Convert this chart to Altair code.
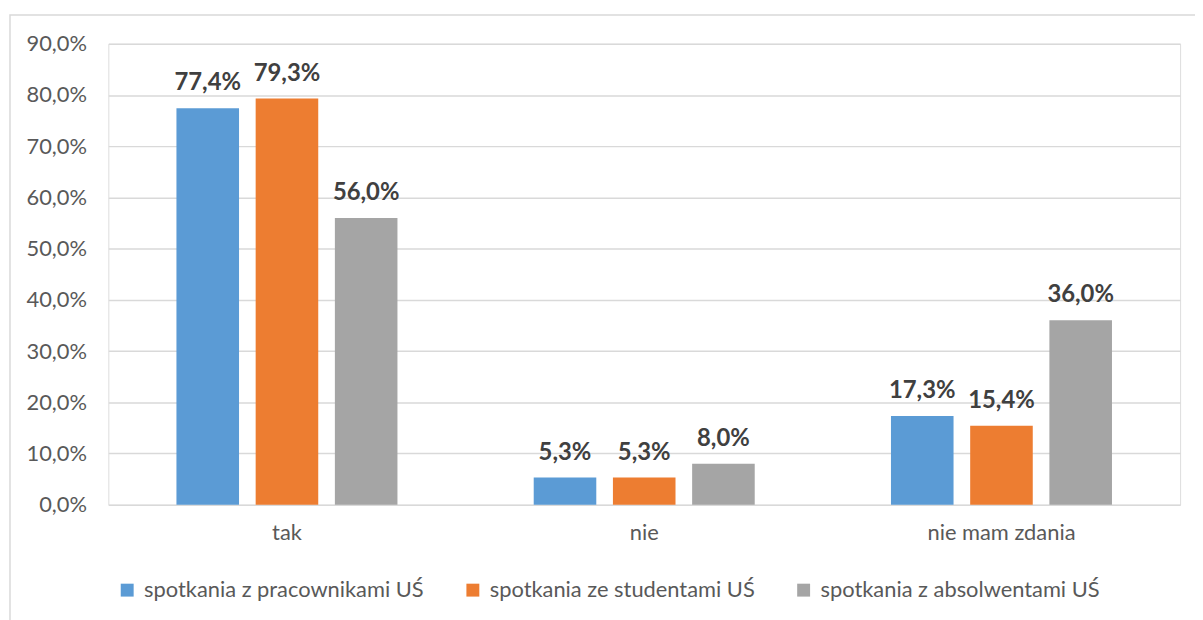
import altair as alt
import pandas as pd

categories = ["tak", "nie", "nie mam zdania"]
series = ["spotkania z pracownikami UŚ", "spotkania ze studentami UŚ", "spotkania z absolwentami UŚ"]
values_pracownicy = [77.4, 5.3, 17.3]
values_studenci = [79.3, 5.3, 15.4]
values_absolwenci = [56.0, 8.0, 36.0]
colors = ["#5B9BD5", "#ED7D31", "#A5A5A5"]
y_ticks = [0, 10, 20, 30, 40, 50, 60, 70, 80, 90]

rows = []
for s, vals in zip(series, [values_pracownicy, values_studenci, values_absolwenci]):
    for c, v in zip(categories, vals):
        rows.append({"kategoria": c, "seria": s, "wartosc": v})
df = pd.DataFrame(rows)

FONT = "Lato"
W, H = 1079, 464

x_enc = alt.X("kategoria:N", sort=categories,
              scale=alt.Scale(paddingInner=0, paddingOuter=0),
              axis=alt.Axis(title=None, labelAngle=0, labelFontSize=22, labelColor="#595959",
                            labelFont=FONT, labelPadding=18, ticks=False, domain=False, grid=False))
xo_enc = alt.XOffset("seria:N", sort=series,
                     scale=alt.Scale(paddingInner=0.21, paddingOuter=0.86))
y_enc = alt.Y("wartosc:Q", scale=alt.Scale(domain=[0, 90], nice=False),
              axis=alt.Axis(title=None, values=y_ticks, labelFontSize=22, labelColor="#595959",
                            labelFont=FONT, labelPadding=22, ticks=False, domain=False,
                            gridColor="#D9D9D9", gridWidth=1.5,
                            labelExpr="replace(format(datum.value, '.1f'), '.', ',') + '%'"))

base = alt.Chart(df)

bars = base.mark_bar().encode(
    x=x_enc, xOffset=xo_enc, y=y_enc,
    color=alt.Color("seria:N", sort=series, scale=alt.Scale(domain=series, range=colors),
                    legend=alt.Legend(title=None, orient="none", direction="horizontal",
                                      legendX=8, legendY=539, symbolType="square",
                                      symbolSize=169, symbolStrokeWidth=0, labelFontSize=22,
                                      labelFont=FONT, labelColor="#595959", labelOffset=6,
                                      columnPadding=38, labelLimit=400)),
)

labels = base.transform_calculate(
    etykieta="replace(format(datum.wartosc, '.1f'), '.', ',') + '%'"
).mark_text(fontSize=24, fontWeight="bold", font=FONT, color="#404040",
            baseline="alphabetic", dy=-18).encode(
    x=x_enc, xOffset=xo_enc, y=y_enc, text="etykieta:N"
)

border = alt.Chart(pd.DataFrame({"a": [0]})).mark_rect(
    fill=None, stroke="#D9D9D9", strokeWidth=1.5
).encode(x=alt.value(-99), x2=alt.value(1300), y=alt.value(-29), y2=alt.value(800))

chart = alt.layer(border, bars, labels).properties(
    width=W, height=H,
    autosize=alt.AutoSizeParams(type="none"),
    padding={"left": 101, "top": 34, "right": 15, "bottom": 114},
).configure_view(stroke=None).configure(background="white")

chart.save("out.html", embed_options={"renderer": "svg", "actions": False})
